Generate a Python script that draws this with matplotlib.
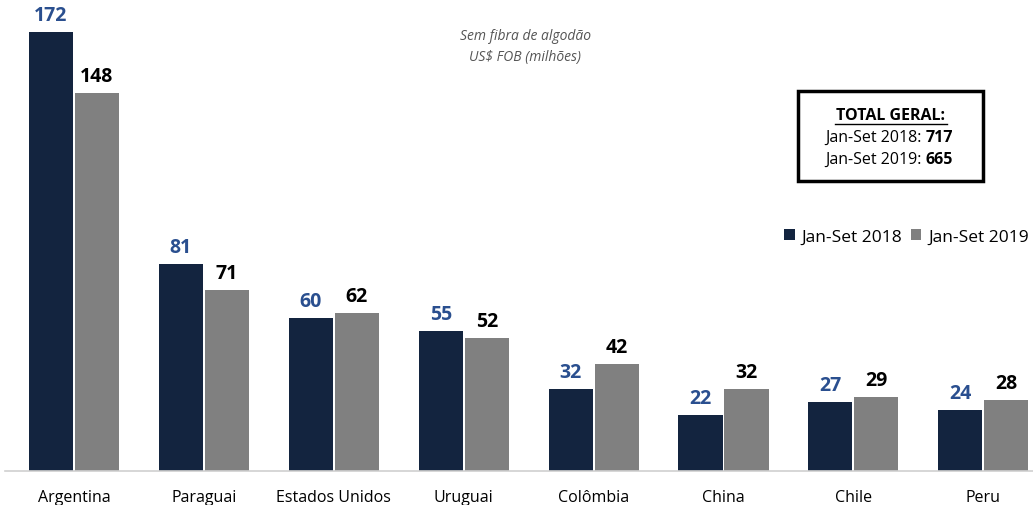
import matplotlib.pyplot as plt
import numpy as np
from matplotlib.patches import Rectangle
from matplotlib.lines import Line2D

plt.rcParams['font.family'] = ['Open Sans', 'DejaVu Sans']

# data (US$ FOB, millions)
countries = ['Argentina', 'Paraguai', 'Estados Unidos', 'Uruguai',
             'Colômbia', 'China', 'Chile', 'Peru']
vals_2018 = [172, 81, 60, 55, 32, 22, 27, 24]
vals_2019 = [148, 71, 62, 52, 42, 32, 29, 28]
series_names = ['Jan-Set 2018', 'Jan-Set 2019']
total_2018 = 717
total_2019 = 665

DARK = '#13243f'
GRAY = '#808080'
BLUE = '#2a4f8f'

W, H = 1033, 506
fig = plt.figure(figsize=(W / 100, H / 100), dpi=100)
ax = fig.add_axes([0, (H - 472) / H, 1, 472 / H])


def fx(px):
    return px / W


def fy(py):
    return 1 - py / H


x = np.arange(len(countries))
bw = 0.339
off = 0.177
ax.bar(x - off, vals_2018, bw, color=DARK, label=series_names[0])
ax.bar(x + off, vals_2019, bw, color=GRAY, label=series_names[1])

for xi, v in zip(x, vals_2018):
    ax.annotate(str(v), (xi - off, v), xytext=(0, 5), textcoords='offset points',
                ha='center', va='bottom', fontsize=14, fontweight='bold', color=BLUE)
for xi, v in zip(x, vals_2019):
    ax.annotate(str(v), (xi + off, v), xytext=(0, 5), textcoords='offset points',
                ha='center', va='bottom', fontsize=14, fontweight='bold', color='black')

# px = 74 + 129.9 * i
ax.set_xlim(-74 / 129.9, (W - 74) / 129.9)
ax.set_ylim(0, 472 / 2.552)
ax.axis('off')
ax.plot([-69 / 129.9, (W - 74) / 129.9], [0, 0], color='#d0d0d0', lw=1.2, clip_on=False)

for xi, name in zip(x, countries):
    fig.text(fx(74 + 129.9 * xi), fy(498), name, ha='center', va='center',
             fontsize=11.5, color='black')

# subtitle
fig.text(fx(525), fy(37), 'Sem fibra de algodão', ha='center', va='center',
         fontsize=10, style='italic', color='#555555')
fig.text(fx(525), fy(57), 'US$ FOB (milhões)', ha='center', va='center',
         fontsize=10, style='italic', color='#555555')

# total box
fig.patches.append(Rectangle((fx(798), fy(182)), fx(983 - 798), (182 - 92) / H,
                             transform=fig.transFigure, fill=False,
                             edgecolor='black', lw=2.5))
fig.text(fx(891), fy(116), 'TOTAL GERAL:', ha='center', va='center',
         fontsize=11.5, fontweight='bold', color='black')
fig.lines.append(Line2D([fx(835), fx(947)], [fy(125), fy(125)],
                        transform=fig.transFigure, color='black', lw=1))
fig.text(fx(922), fy(138), 'Jan-Set 2018:', ha='right', va='center', fontsize=11.5)
fig.text(fx(926), fy(138), str(total_2018), ha='left', va='center',
         fontsize=11.5, fontweight='bold')
fig.text(fx(922), fy(160), 'Jan-Set 2019:', ha='right', va='center', fontsize=11.5)
fig.text(fx(926), fy(160), str(total_2019), ha='left', va='center',
         fontsize=11.5, fontweight='bold')

# legend
ax.legend(loc='center right', bbox_to_anchor=(fx(1029), fy(238)),
          bbox_transform=fig.transFigure, ncol=2, frameon=False,
          fontsize=12.5, handlelength=0.6, handleheight=0.6, handletextpad=0.4,
          columnspacing=0.5, borderaxespad=0, borderpad=0)

fig.savefig('out.png', dpi=100)
